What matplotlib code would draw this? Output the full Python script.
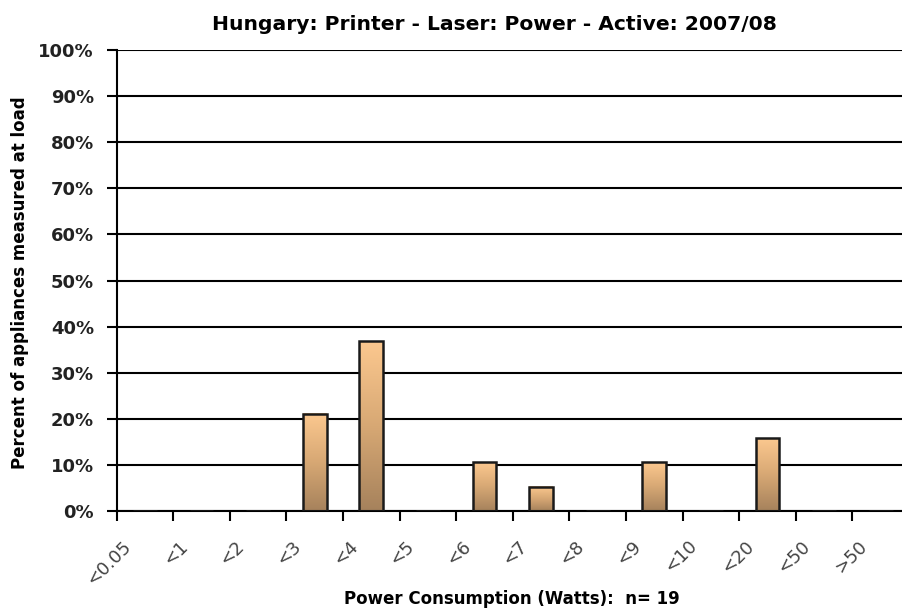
import numpy as np
import matplotlib.pyplot as plt
from matplotlib.colors import LinearSegmentedColormap
from matplotlib.transforms import ScaledTranslation

# Data (n = 19 appliances)
categories = ['<0.05', '<1', '<2', '<3', '<4', '<5', '<6', '<7', '<8', '<9',
              '<10', '<20', '<50', '>50']
percent = [0, 0, 0, 21.05, 36.84, 0, 10.53, 5.26, 0, 10.53, 0, 15.79, 0, 0]
ytick_vals = list(range(0, 101, 10))

fig = plt.figure(figsize=(9.03, 6.10), dpi=100)
# the plot area runs a little past the right edge of the picture, as in the original
ax = fig.add_axes([0.1292, 0.1623, 0.8774, 0.7557])

x = np.arange(len(categories))
bars = ax.bar(x, percent, width=0.42, color='none', edgecolor='#1a1a1a',
              linewidth=1.8, zorder=3)

# vertical tan gradient inside each bar
cmap = LinearSegmentedColormap.from_list('tan', ['#a6825c', '#d7a874', '#fcc88f'])
grad = np.linspace(0, 1, 200).reshape(-1, 1)
for b in bars:
    if b.get_height() <= 0:
        continue
    x0, w, h = b.get_x(), b.get_width(), b.get_height()
    ax.imshow(grad, cmap=cmap, origin='lower', aspect='auto',
              extent=[x0, x0 + w, 0, h], zorder=2, interpolation='bilinear')

ax.set_xlim(-0.5, len(categories) - 0.5)
ax.set_ylim(0, 100)

# y axis
ax.set_yticks(ytick_vals)
ax.set_yticklabels([f'{v}%' for v in ytick_vals], fontsize=13, fontweight='bold',
                   color='#222222')
ax.tick_params(axis='y', length=7, width=1.5, pad=9.4, direction='out')
ax.yaxis.grid(True, color='black', linewidth=1.5)
ax.set_axisbelow(True)

# x axis: ticks on bin edges, labels in the bins
ax.set_xticks(x)
ax.set_xticklabels(categories, rotation=45, ha='right', va='top', fontsize=13,
                   color='#444444')
ax.set_xticks(np.arange(-0.5, len(categories) - 1, 1), minor=True)
ax.tick_params(axis='x', which='major', length=0, pad=18.7)
ax.tick_params(axis='x', which='minor', length=7, width=1.5, direction='out')
shift = ScaledTranslation(-0.10, 0, fig.dpi_scale_trans)
for lab in ax.get_xticklabels():
    lab.set_transform(lab.get_transform() + shift)

for side in ['top', 'right']:
    ax.spines[side].set_visible(False)
for side in ['left', 'bottom']:
    ax.spines[side].set_linewidth(1.5)
    ax.spines[side].set_color('black')

fig.text(494.5 / 903, 1 - 24 / 610, 'Hungary: Printer - Laser: Power - Active: 2007/08',
         ha='center', va='center', fontsize=14.6, fontweight='bold')
fig.text(512 / 903, 1 - 599 / 610, 'Power Consumption (Watts):  n= 19',
         ha='center', va='center', fontsize=12, fontweight='bold')
fig.text(20 / 903, 1 - 283 / 610, 'Percent of appliances measured at load',
         ha='center', va='center', rotation=90, fontsize=12, fontweight='bold')

fig.savefig('out.png', dpi=100)
